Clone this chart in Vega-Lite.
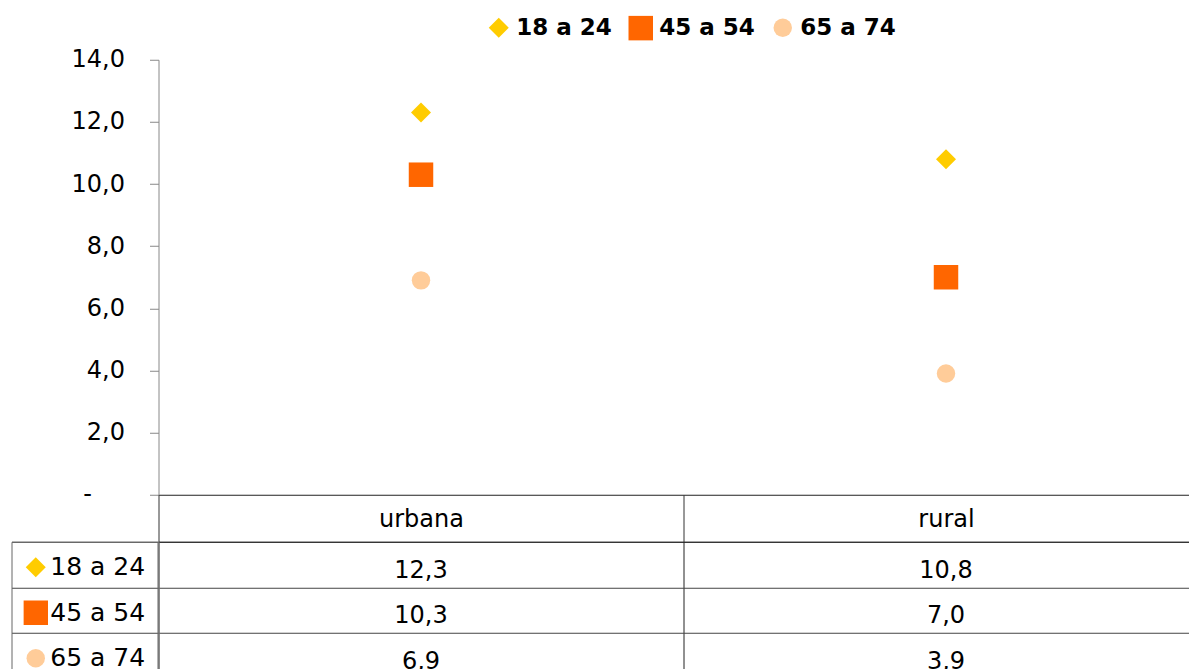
{
  "$schema": "https://vega.github.io/schema/vega-lite/v6.json",
  "padding": {"left": 10.5, "top": 14.75, "right": 0, "bottom": 0},
  "background": "#ffffff",
  "bounds": "flush",
  "spacing": 47,
  "config": {
    "locale": {"number": {"decimal": ",", "thousands": ".", "grouping": [3], "currency": ["", " €"]}},
    "font": "DejaVu Sans",
    "view": {"stroke": null}
  },
  "datasets": {
    "d": [
      {"area": "urbana", "faixa": "18 a 24", "valor": 12.3},
      {"area": "urbana", "faixa": "45 a 54", "valor": 10.3},
      {"area": "urbana", "faixa": "65 a 74", "valor": 6.9},
      {"area": "rural", "faixa": "18 a 24", "valor": 10.8},
      {"area": "rural", "faixa": "45 a 54", "valor": 7.0},
      {"area": "rural", "faixa": "65 a 74", "valor": 3.9}
    ]
  },
  "resolve": {
    "scale": {"color": "independent", "shape": "independent", "size": "independent"},
    "legend": {"color": "independent", "shape": "independent", "size": "independent"}
  },
  "vconcat": [
    {
      "width": 1050,
      "height": 435,
      "data": {"name": "d"},
      "mark": {"type": "point", "filled": true, "opacity": 1, "strokeWidth": 0},
      "encoding": {
        "x": {
          "field": "area", "type": "nominal", "sort": ["urbana", "rural"],
          "scale": {"type": "band", "paddingInner": 0, "paddingOuter": 0},
          "axis": {"labels": false, "ticks": false, "title": null, "grid": false, "domainColor": "#222222", "domainWidth": 1.2}
        },
        "y": {
          "field": "valor", "type": "quantitative",
          "scale": {"domain": [0, 14], "nice": false, "zero": true},
          "axis": {
            "values": [0, 2, 4, 6, 8, 10, 12, 14], "format": ".1f",
            "labelExpr": "datum.value === 0 ? '-' : datum.label",
            "labelPadding": {"condition": {"test": "datum.value === 0", "value": 58}, "value": 25},
            "title": null, "grid": false, "domainColor": "#888888", "tickColor": "#888888",
            "tickSize": 9, "labelFontSize": 24, "labelColor": "#000000", "labelFont": "DejaVu Sans"
          }
        },
        "color": {
          "field": "faixa", "type": "nominal",
          "scale": {"domain": ["18 a 24", "45 a 54", "65 a 74"], "range": ["#FFCC00", "#FF6600", "#FFCC99"]},
          "legend": {"orient": "none", "legendX": 328.75, "legendY": -44.25, "direction": "horizontal", "title": null, "labelFontSize": 23, "labelFontWeight": "bold", "labelColor": "#000000", "labelFont": "DejaVu Sans", "columnPadding": 16, "labelOffset": 6, "padding": 0, "symbolStrokeWidth": 0, "symbolOpacity": 1}
        },
        "shape": {
          "field": "faixa", "type": "nominal",
          "scale": {"domain": ["18 a 24", "45 a 54", "65 a 74"], "range": ["diamond", "square", "circle"]},
          "legend": {"orient": "none", "legendX": 328.75, "legendY": -44.25, "direction": "horizontal", "title": null, "labelFontSize": 23, "labelFontWeight": "bold", "labelColor": "#000000", "labelFont": "DejaVu Sans", "columnPadding": 16, "labelOffset": 6, "padding": 0, "symbolStrokeWidth": 0, "symbolOpacity": 1}
        },
        "size": {
          "field": "faixa", "type": "nominal",
          "scale": {"type": "ordinal", "domain": ["18 a 24", "45 a 54", "65 a 74"], "range": [400, 600, 340]},
          "legend": {"orient": "none", "legendX": 328.75, "legendY": -44.25, "direction": "horizontal", "title": null, "labelFontSize": 23, "labelFontWeight": "bold", "labelColor": "#000000", "labelFont": "DejaVu Sans", "columnPadding": 16, "labelOffset": 6, "padding": 0, "symbolStrokeWidth": 0, "symbolOpacity": 1}
        }
      }
    },
    {
      "width": 1050,
      "height": 136.5,
      "data": {"name": "d"},
      "encoding": {
        "x": {
          "field": "area", "type": "nominal", "sort": ["urbana", "rural"],
          "scale": {"type": "band", "paddingInner": 0, "paddingOuter": 0},
          "axis": {"orient": "top", "title": null, "tickBand": "extent", "tickSize": 47, "tickColor": "#333333", "domainColor": "#222222", "grid": true, "gridColor": "#222222", "gridOpacity": 1, "labelFontSize": 24, "labelColor": "#000000", "labelFont": "DejaVu Sans", "labelPadding": -25, "labelBaseline": "middle", "labelAngle": 0}
        },
        "y": {
          "field": "faixa", "type": "nominal", "sort": ["18 a 24", "45 a 54", "65 a 74"],
          "scale": {"type": "band", "paddingInner": 0, "paddingOuter": 0},
          "axis": {"labels": false, "title": null, "tickBand": "extent", "tickSize": 147, "tickColor": "#444444", "domainColor": "#888888", "grid": true, "gridColor": "#444444", "gridOpacity": 1}
        }
      },
      "layer": [
        {
          "mark": {"type": "text", "fontSize": 24, "color": "#000000", "font": "DejaVu Sans", "dy": 6},
          "encoding": {"text": {"field": "valor", "type": "quantitative", "format": ".1f"}}
        },
        {
          "transform": [{"filter": "false"}],
          "mark": {"type": "point", "filled": true, "opacity": 1, "strokeWidth": 0},
          "encoding": {
            "color": {
              "field": "faixa", "type": "nominal",
              "scale": {"domain": ["18 a 24", "45 a 54", "65 a 74"], "range": ["#FFCC00", "#FF6600", "#FFCC99"]},
              "legend": {"orient": "left", "offset": -147, "direction": "vertical", "title": null, "labelFontSize": 25, "labelColor": "#000000", "labelFont": "DejaVu Sans", "padding": 11.75, "rowPadding": 17.5, "clipHeight": 27.5, "labelOffset": 2, "strokeColor": "#666666", "symbolStrokeWidth": 0, "symbolOpacity": 1}
            },
            "shape": {
              "field": "faixa", "type": "nominal",
              "scale": {"domain": ["18 a 24", "45 a 54", "65 a 74"], "range": ["diamond", "square", "circle"]},
              "legend": {"orient": "left", "offset": -147, "direction": "vertical", "title": null, "labelFontSize": 25, "labelColor": "#000000", "labelFont": "DejaVu Sans", "padding": 11.75, "rowPadding": 17.5, "clipHeight": 27.5, "labelOffset": 2, "strokeColor": "#666666", "symbolStrokeWidth": 0, "symbolOpacity": 1}
            },
            "size": {
              "field": "faixa", "type": "nominal",
              "scale": {"type": "ordinal", "domain": ["18 a 24", "45 a 54", "65 a 74"], "range": [400, 600, 340]},
              "legend": {"orient": "left", "offset": -147, "direction": "vertical", "title": null, "labelFontSize": 25, "labelColor": "#000000", "labelFont": "DejaVu Sans", "padding": 11.75, "rowPadding": 17.5, "clipHeight": 27.5, "labelOffset": 2, "strokeColor": "#666666", "symbolStrokeWidth": 0, "symbolOpacity": 1}
            }
          }
        }
      ]
    }
  ]
}
